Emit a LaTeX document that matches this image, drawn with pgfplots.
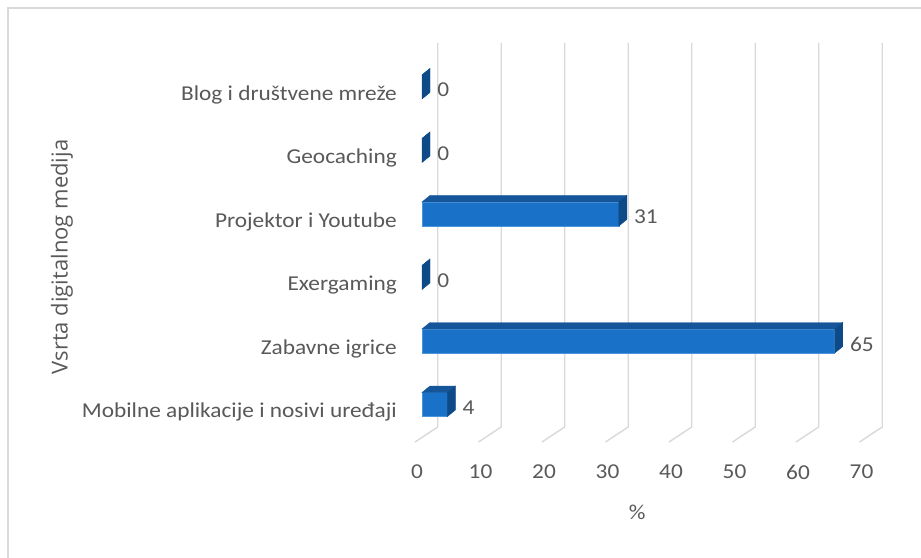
\documentclass[border=0pt]{standalone}
\usepackage{fontspec}
\setmainfont{Carlito}[FakeStretch=1.1]
\newfontfamily\titlefont{Open Sans}
\usepackage{pgfplots}
\pgfplotsset{compat=1.18}
\usepackage{pgfplotstable}
\definecolor{txt}{HTML}{595959}
\definecolor{gridc}{HTML}{D9D9D9}
\definecolor{front}{HTML}{1A72C8}
\definecolor{topc}{HTML}{15569A}
\definecolor{sidec}{HTML}{0F4A88}
\definecolor{edge}{HTML}{4A94DC}
\newcommand\myfont{\fontsize{21.2}{25}\selectfont}

\pgfplotstableread{
y v
0 4
1 65
2 0
3 31
4 0
5 0
}\datatable

\begin{document}
\myfont
\begin{tikzpicture}
\useasboundingbox (0,0) rectangle (921pt,557pt);
\fill[white] (0,0) rectangle (921pt,557pt);
\draw[gridc, line width=2pt] (8.3pt,-3pt) -- (8.3pt,548.7pt) -- (925pt,548.7pt);
\begin{axis}[
  at={(422pt,119.6pt)}, anchor=south west,
  scale only axis, width=444.5pt, height=384pt,
  xmin=0, xmax=70, ymin=-0.518, ymax=5.529,
  axis line style={draw=none},
  major tick length=0pt,
  xtick={0,10,20,30,40,50,60,70},
  ytick={0,1,2,3,4,5},
  yticklabels={Mobilne aplikacije i nosivi uređaji, Zabavne igrice\hspace{8pt}, Exergaming\hspace{8pt}, Projektor i Youtube\hspace{8pt}, Geocaching, Blog i društvene mreže},
  /pgf/number format/assume math mode=true,
  tick label style={font=\myfont, text=txt, inner sep=0pt},
  xticklabel style={anchor=center, xshift=-5pt, yshift=-34.6pt},
  yticklabel style={anchor=east, xshift=-25pt, yshift=-7.5pt},
  xlabel={\%},
  xlabel style={at={(axis description cs:0.5,0)}, anchor=center, xshift=-7pt, yshift=-74.6pt, font=\myfont, text=txt},
  ylabel={Vsrta digitalnog medija},
  ylabel style={at={(axis description cs:-0.81,0.47)}, anchor=center, font={\titlefont\fontsize{22}{26}\selectfont}, text=txt},
  clip=false,
]
\pgfplotsinvokeforeach{0,10,20,30,40,50,60,70}{
  \draw[gridc, line width=1.4pt] ([shift={(-7pt,-4.6pt)}]axis cs:#1,-0.518) -- ([shift={(15.7pt,10.4pt)}]axis cs:#1,-0.518) -- ([shift={(15.7pt,10.4pt)}]axis cs:#1,5.529);
}
\addplot[only marks, mark=*, mark size=0pt, mark options={draw=none, fill=none},
  scatter, point meta=\thisrow{v},
  scatter/@pre marker code/.code={%
    \pgfmathfloattofixed{\pgfplotspointmeta}%
    \pgfmathsetmacro{\L}{\pgfmathresult*6.35}%
    \fill[topc] ({-\L pt},12pt) -- (0pt,12pt) -- (8pt,18.5pt) -- ({8pt-\L pt},18.5pt) -- cycle;
    \fill[sidec] (0pt,-12pt) -- (0pt,12pt) -- (8pt,18.5pt) -- (8pt,-5.5pt) -- cycle;
  },
  scatter/@post marker code/.code={},
] table[x=v, y=y]{\datatable};
\addplot[xbar, bar width=24pt, bar shift=0pt, fill=front, draw=edge, line width=0.6pt,
  nodes near coords,
  every node near coord/.append style={font=\myfont, text=txt, anchor=west, inner sep=0pt, xshift=15pt, yshift=-3pt},
] table[x=v, y=y]{\datatable};
\end{axis}
\end{tikzpicture}
\end{document}
